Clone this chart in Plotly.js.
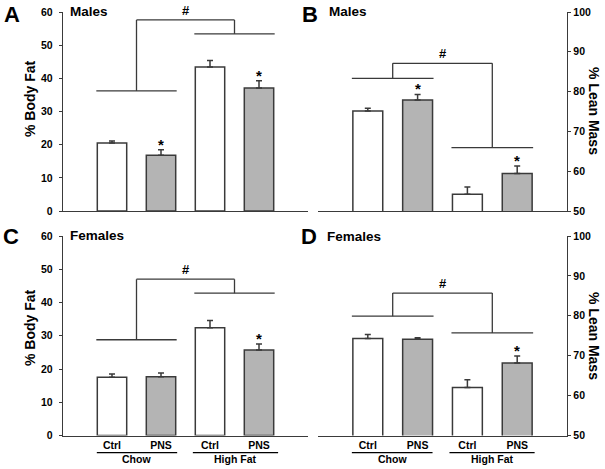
<!DOCTYPE html>
<html>
<head>
<meta charset="utf-8">
<script src="https://cdn.plot.ly/plotly-3.0.1.min.js"></script>
<style>html,body{margin:0;padding:0;background:#fff;}#chart{width:605px;height:469px;}</style>
</head>
<body>
<div id="chart"></div>
<script>
// ---- data ----
var groups = ["Chow", "Chow", "High Fat", "High Fat"];
var treatments = ["Ctrl", "PNS", "Ctrl", "PNS"];
var diets = ["Chow", "High Fat"];

var malesFat = [20.5, 16.8, 43.4, 37.1];
var malesFatErr = [0.6, 1.7, 2.0, 2.2];
var malesLean = [75.1, 77.9, 54.2, 59.4];
var malesLeanErr = [0.7, 1.4, 1.8, 1.9];
var femalesFat = [17.5, 17.7, 32.4, 25.7];
var femalesFatErr = [1.0, 1.1, 2.2, 1.8];
var femalesLean = [74.3, 74.1, 62.0, 68.2];
var femalesLeanErr = [1.0, 0.4, 2.0, 1.7];

// significance markers (* vs Ctrl within diet)
var starsA = [false, true, false, true];
var starsB = [false, true, false, true];
var starsC = [false, false, false, true];
var starsD = [false, false, false, true];

// diet-effect bracket levels: [chow line, high-fat line, top]
var bracketA = [36.2, 53.4, 57.6];
var bracketB = [83.3, 65.9, 87.1];
var bracketC = [28.8, 42.8, 47.0];
var bracketD = [79.9, 75.7, 85.7];

var panelLetters = ["A", "B", "C", "D"];
var panelSex = ["Males", "Males", "Females", "Females"];
var fatTitle = "% Body Fat";
var leanTitle = "% Lean Mass";
var fatTicks = [0, 10, 20, 30, 40, 50, 60];
var leanTicks = [50, 60, 70, 80, 90, 100];

// ---- styles ----
var FONT = "Liberation Sans, Arial, sans-serif";
var DARK = "#3a3a3a";
var GRAY = "#b4b4b4";
var xpos = [0, 1, 2, 3];
var fills = treatments.map(function (t) { return t === "Ctrl" ? "#ffffff" : GRAY; });

function barTrace(vals, errs, xa, ya) {
  return {
    type: "bar", x: xpos, y: vals, xaxis: xa, yaxis: ya, width: 0.6,
    marker: { color: fills, line: { color: DARK, width: 1.5 } },
    error_y: { type: "data", symmetric: false, array: errs, arrayminus: errs.map(function () { return 0; }),
               color: DARK, thickness: 1.5, width: 3 },
    hoverinfo: "none", showlegend: false
  };
}

var data = [
  barTrace(malesFat, malesFatErr, "x", "y"),
  barTrace(malesLean, malesLeanErr, "x2", "y2"),
  barTrace(femalesFat, femalesFatErr, "x3", "y3"),
  barTrace(femalesLean, femalesLeanErr, "x4", "y4")
];

function px(x) { return x / 605; }
function py(y) { return 1 - y / 469; }

var topDom = [py(211), py(12)];
var botDom = [py(435.5), py(236)];
var leftDom = [px(63), px(308)];
var rightDom = [px(318), px(567)];

function xaxisCfg(dom, anchor, labels) {
  return {
    domain: dom, anchor: anchor, range: [-1, 4], showline: true, linecolor: DARK, linewidth: 1.2,
    showgrid: false, zeroline: false, ticks: "", fixedrange: true,
    tickvals: xpos, ticktext: treatments, showticklabels: labels,
    tickfont: { family: FONT, size: 10.5, color: "#000", weight: "bold" }
  };
}
function yaxisCfg(dom, anchor, range, ticks, side) {
  return {
    domain: dom, anchor: anchor, range: range, side: side, showline: true, linecolor: DARK, linewidth: 1.2,
    showgrid: false, zeroline: false, ticks: "outside", ticklen: 3, tickcolor: DARK, tickwidth: 1,
    tickvals: ticks, ticklabelstandoff: side === "right" ? 0 : 4,
    tickfont: { family: FONT, size: 10.5, color: "#000", weight: "bold" }
  };
}

var shapes = [];
var annotations = [];

function addBracket(xa, ya, lv) {
  var L = { color: DARK, width: 1.3 };
  var hw = 0.82;
  var c1 = 0.5, c2 = 2.5;
  shapes.push({ type: "line", xref: xa, yref: ya, x0: c1 - hw, x1: c1 + hw, y0: lv[0], y1: lv[0], line: L });
  shapes.push({ type: "line", xref: xa, yref: ya, x0: c2 - hw, x1: c2 + hw, y0: lv[1], y1: lv[1], line: L });
  shapes.push({ type: "line", xref: xa, yref: ya, x0: c1, x1: c1, y0: lv[0], y1: lv[2], line: L });
  shapes.push({ type: "line", xref: xa, yref: ya, x0: c2, x1: c2, y0: lv[1], y1: lv[2], line: L });
  shapes.push({ type: "line", xref: xa, yref: ya, x0: c1, x1: c2, y0: lv[2], y1: lv[2], line: L });
  annotations.push({ xref: xa, yref: ya, x: 1.5, y: lv[2], yanchor: "bottom", yshift: 0, showarrow: false,
    text: "#", font: { family: FONT, size: 13, color: "#000", weight: "bold" } });
}
function addStars(xa, ya, vals, errs, stars) {
  for (var i = 0; i < vals.length; i++) {
    if (!stars[i]) continue;
    annotations.push({ xref: xa, yref: ya, x: xpos[i], y: vals[i] + errs[i], yanchor: "bottom", yshift: -5,
      showarrow: false, text: "*", font: { family: FONT, size: 15, color: "#000", weight: "bold" } });
  }
}

addBracket("x", "y", bracketA);
addBracket("x2", "y2", bracketB);
addBracket("x3", "y3", bracketC);
addBracket("x4", "y4", bracketD);
addStars("x", "y", malesFat, malesFatErr, starsA);
addStars("x2", "y2", malesLean, malesLeanErr, starsB);
addStars("x3", "y3", femalesFat, femalesFatErr, starsC);
addStars("x4", "y4", femalesLean, femalesLeanErr, starsD);

// panel letters and sex labels
var letterPos = [[12, 0, "top"], [310, 0, "top"], [11, 236, "middle"], [309, 237, "middle"]];
var sexPos = [[68, 11], [327, 11], [68, 235], [325, 236]];
for (var k = 0; k < 4; k++) {
  annotations.push({ xref: "paper", yref: "paper", x: px(letterPos[k][0]), y: py(letterPos[k][1]),
    xanchor: "center", yanchor: letterPos[k][2], showarrow: false, text: panelLetters[k],
    font: { family: FONT, size: 22, color: "#000", weight: "bold" } });
  annotations.push({ xref: "paper", yref: "paper", x: px(sexPos[k][0]), y: py(sexPos[k][1]),
    xanchor: "left", yanchor: "middle", showarrow: false, text: panelSex[k],
    font: { family: FONT, size: 13.5, color: "#000", weight: "bold" } });
}

// axis titles
var titlePos = [[30, 99, -90, fatTitle], [594, 111, 90, leanTitle], [30, 328, -90, fatTitle], [594, 336, 90, leanTitle]];
titlePos.forEach(function (t) {
  annotations.push({ xref: "paper", yref: "paper", x: px(t[0]), y: py(t[1]), xanchor: "center", yanchor: "middle",
    textangle: t[2], showarrow: false, text: t[3], font: { family: FONT, size: 14, color: "#000", weight: "bold" } });
});

// diet group labels under bottom panels
[["x3", [[-0.31, 1.33], [1.65, 3.39]]], ["x4", [[-0.32, 1.30], [1.64, 3.35]]]].forEach(function (g) {
  g[1].forEach(function (span, j) {
    shapes.push({ type: "line", xref: g[0], yref: "paper", x0: span[0], x1: span[1], y0: py(452.7), y1: py(452.7),
      line: { color: "#000", width: 1.2 } });
    annotations.push({ xref: g[0], yref: "paper", x: (span[0] + span[1]) / 2, y: py(459), xanchor: "center",
      yanchor: "middle", showarrow: false, text: diets[j],
      font: { family: FONT, size: 10.5, color: "#000", weight: "bold" } });
  });
});

var layout = {
  width: 605, height: 469, margin: { l: 0, r: 0, t: 0, b: 0 },
  paper_bgcolor: "#fff", plot_bgcolor: "rgba(0,0,0,0)", showlegend: false,
  font: { family: FONT, color: "#000" },
  xaxis: xaxisCfg(leftDom, "y", false),
  yaxis: yaxisCfg(topDom, "x", [0, 60], fatTicks, "left"),
  xaxis2: xaxisCfg(rightDom, "y2", false),
  yaxis2: yaxisCfg(topDom, "x2", [50, 100], leanTicks, "right"),
  xaxis3: xaxisCfg(leftDom, "y3", true),
  yaxis3: yaxisCfg(botDom, "x3", [0, 60], fatTicks, "left"),
  xaxis4: xaxisCfg(rightDom, "y4", true),
  yaxis4: yaxisCfg(botDom, "x4", [50, 100], leanTicks, "right"),
  shapes: shapes, annotations: annotations
};

Plotly.newPlot("chart", data, layout, { staticPlot: true, displayModeBar: false });
</script>
</body>
</html>
